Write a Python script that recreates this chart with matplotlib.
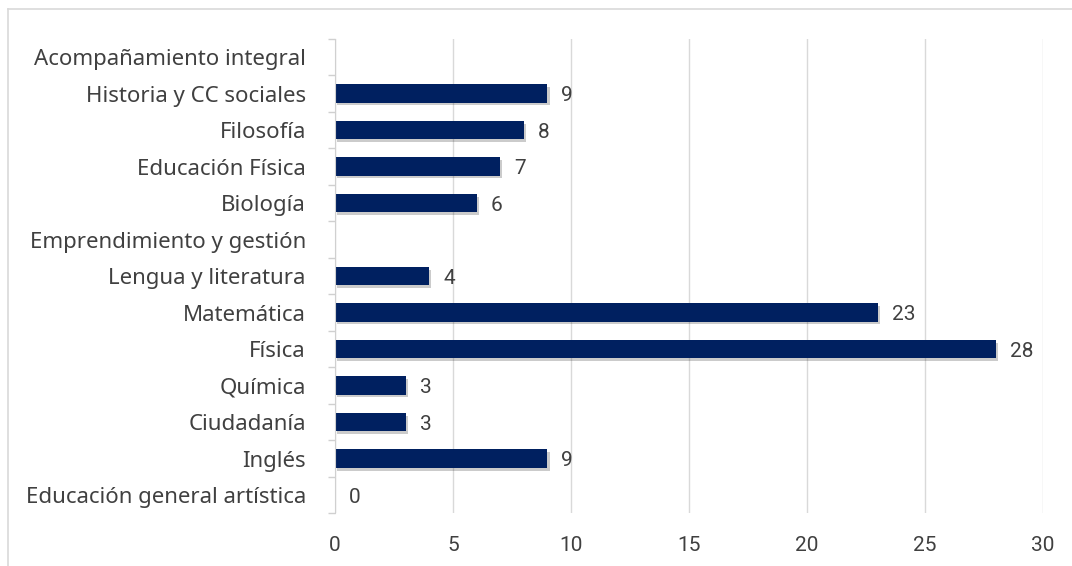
import matplotlib.pyplot as plt
import matplotlib.patheffects as pe
import numpy as np

# categories listed bottom to top, as drawn
categories = [
    'Educación general artística', 'Inglés', 'Ciudadanía', 'Química', 'Física',
    'Matemática', 'Lengua y literatura', 'Emprendimiento y gestión', 'Biología',
    'Educación Física', 'Filosofía', 'Historia y CC sociales', 'Acompañamiento integral',
]
values = [0, 9, 3, 3, 28, 23, 4, None, 6, 7, 8, 9, None]
x_ticks = [0, 5, 10, 15, 20, 25, 30]

plt.rcParams['font.family'] = ['Noto Sans', 'DejaVu Sans']
num_font = ['Roboto', 'DejaVu Sans']

fig = plt.figure(figsize=(10.72, 5.66), dpi=100)
ax = fig.add_axes([0.3125, 0.093, 0.6605, 0.8385])

y = np.arange(len(categories))
vals = np.array([np.nan if v is None else v for v in values], dtype=float)
bars = ax.barh(y, np.nan_to_num(vals), height=0.5, color='#002060', zorder=3)
for b in bars:
    b.set_path_effects([pe.SimplePatchShadow(offset=(1.5, -2), alpha=0.25, shadow_rgbFace='#303030'),
                        pe.Normal()])

for yi, v in zip(y, values):
    if v is None:
        continue
    ax.annotate(str(v), xy=(v, yi), xytext=(10, 0), textcoords='offset points',
                va='center_baseline', ha='left', fontsize=15, color='#404040', family=num_font)

ax.set_xlim(0, 30)
ax.set_ylim(-0.5, len(categories) - 0.5)
ax.set_xticks(x_ticks)
ax.set_xticklabels([str(t) for t in x_ticks], family=num_font)
ax.set_yticks(y)
ax.set_yticklabels(categories)
ax.set_yticks(np.arange(-0.5, len(categories), 1), minor=True)
ax.tick_params(axis='y', which='major', length=0, pad=21, labelsize=16, labelcolor='#404040')
ax.tick_params(axis='y', which='minor', length=5, color='#d0d0d0', width=1)
ax.tick_params(axis='x', length=0, pad=16, labelsize=15, labelcolor='#404040')

ax.grid(axis='x', color='#d9d9d9', linewidth=1, zorder=0)
for s in ['top', 'right', 'bottom']:
    ax.spines[s].set_visible(False)
ax.spines['left'].set_color('#d0d0d0')
ax.spines['left'].set_zorder(4)

# outer chart border
fig.add_artist(plt.Line2D([8 / 1072, 8 / 1072], [0, 1 - 9 / 566], color='#d9d9d9', linewidth=1.2,
                          transform=fig.transFigure))
fig.add_artist(plt.Line2D([8 / 1072, 1], [1 - 9 / 566, 1 - 9 / 566], color='#d9d9d9', linewidth=1.2,
                          transform=fig.transFigure))

fig.savefig('out.png', dpi=100)
